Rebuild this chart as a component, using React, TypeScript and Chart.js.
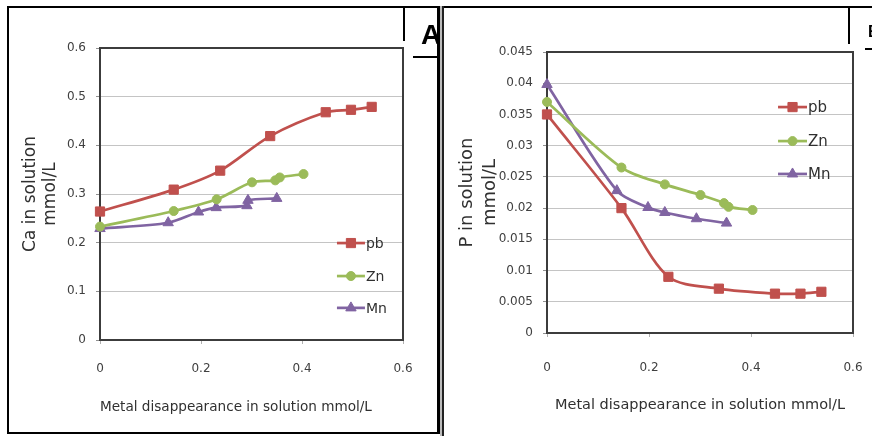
import React, { useEffect, useRef } from 'react';
import { Chart, registerables } from 'chart.js';
import { drawPoint } from 'chart.js/helpers';

Chart.register(...registerables);
Chart.defaults.font.family = "'DejaVu Sans', sans-serif";
Chart.defaults.color = '#404040';

// ---- data ----
const seriesNames = ['pb', 'Zn', 'Mn'];
const seriesColors = ['#C0504D', '#9BBB59', '#8064A2'];
const seriesMarkers = ['rect', 'circle', 'triangle'];
const seriesRadius = [6.5, 4.5, 6];

// Metal disappearance in solution (mmol/L)
const pbX = [0, 0.146, 0.238, 0.337, 0.447, 0.497, 0.538];
const znX = [0, 0.146, 0.231, 0.301, 0.347, 0.356, 0.403];
const mnXA = [0, 0.135, 0.195, 0.23, 0.291, 0.293, 0.35];
const mnXB = [0, 0.137, 0.198, 0.231, 0.293, 0.352];

// Panel A: Ca in solution (mmol/L)
const caPb = [0.264, 0.309, 0.348, 0.419, 0.468, 0.473, 0.479];
const caZn = [0.233, 0.265, 0.289, 0.324, 0.328, 0.334, 0.341];
const caMn = [0.229, 0.241, 0.263, 0.272, 0.276, 0.287, 0.291];

// Panel B: P in solution (mmol/L)
const pPb = [0.035, 0.02, 0.009, 0.0071, 0.0063, 0.0063, 0.0066];
const pZn = [0.037, 0.0265, 0.0238, 0.0221, 0.0208, 0.0202, 0.0197];
const pMn = [0.0398, 0.0228, 0.0201, 0.0193, 0.0183, 0.0176];

// tick labels
const xTickLabels = ['0', '0.2', '0.4', '0.6'];
const caTickLabels = ['0', '0.1', '0.2', '0.3', '0.4', '0.5', '0.6'];
const pTickLabels = ['0', '0.005', '0.01', '0.015', '0.02', '0.025', '0.03', '0.035', '0.04', '0.045'];

const xTitle = 'Metal disappearance in solution mmol/L';
const caTitle = ['Ca in solution', 'mmol/L'];
const pTitle = ['P in solution', 'mmol/L'];

const zip = (xs: number[], ys: number[]) => xs.map((x, i) => ({ x, y: ys[i] }));

const framePlugin = {
  id: 'plotFrame',
  beforeDatasetsDraw(chart: any) {
    const { ctx, chartArea: a } = chart;
    ctx.save();
    ctx.strokeStyle = '#3c3c3c';
    ctx.lineWidth = 2;
    ctx.strokeRect(a.left, a.top, a.right - a.left, a.bottom - a.top);
    ctx.restore();
  },
};

const innerLegend = {
  id: 'innerLegend',
  afterDatasetsDraw(chart: any, _args: any, opts: any) {
    const { ctx, chartArea: a } = chart;
    const w = a.right - a.left;
    const h = a.bottom - a.top;
    chart.data.datasets.forEach((ds: any, i: number) => {
      const x0 = a.left + opts.x * w;
      const y = a.top + opts.ys[i] * h;
      ctx.save();
      ctx.strokeStyle = ds.borderColor;
      ctx.lineWidth = ds.borderWidth;
      ctx.beginPath();
      ctx.moveTo(x0, y);
      ctx.lineTo(x0 + opts.len, y);
      ctx.stroke();
      ctx.fillStyle = ds.pointBackgroundColor;
      ctx.strokeStyle = ds.pointBorderColor;
      ctx.lineWidth = 1;
      drawPoint(ctx, { pointStyle: ds.pointStyle, radius: ds.pointRadius, rotation: 0, borderWidth: 1 } as any, x0 + opts.len / 2, y);
      ctx.fillStyle = '#303030';
      ctx.font = opts.font;
      ctx.textBaseline = 'middle';
      ctx.textAlign = 'left';
      ctx.fillText(ds.label, x0 + opts.len + 1, y + 1);
      ctx.restore();
    });
  },
};

function makeDatasets(pairs: { x: number; y: number }[][]) {
  return pairs.map((data, i) => ({
    label: seriesNames[i],
    data,
    borderColor: seriesColors[i],
    backgroundColor: seriesColors[i],
    pointBackgroundColor: seriesColors[i],
    pointBorderColor: seriesColors[i],
    pointStyle: seriesMarkers[i],
    pointRadius: seriesRadius[i],
    pointBorderWidth: 1,
    borderWidth: 2.7,
    tension: 0.3,
    clip: false,
  }));
}

type PanelSpec = {
  datasets: any[];
  yMax: number;
  yStep: number;
  yLabels: string[];
  yTitle: string[];
  yTitleSize: number;
  yTitleLine: string;
  yTitlePad: number;
  yWidth: number;
  xHeight: number;
  xTickPad: number;
  xTitleSize: number;
  xTitlePad: number;
  xTitleAlign: string;
  padTop: number;
  padRight: number;
  legend: any;
};

function makeConfig(s: PanelSpec): any {
  return {
    type: 'line',
    data: { datasets: s.datasets },
    plugins: [framePlugin, innerLegend],
    options: {
      animation: false,
      responsive: false,
      devicePixelRatio: 1,
      layout: { padding: { top: s.padTop, right: s.padRight, left: 0, bottom: 0 } },
      plugins: {
        legend: { display: false },
        tooltip: { enabled: false },
        innerLegend: s.legend,
      },
      scales: {
        x: {
          type: 'linear',
          min: 0,
          max: 0.6,
          ticks: {
            stepSize: 0.2,
            padding: s.xTickPad,
            font: { size: 12 },
            color: '#404040',
            maxRotation: 0,
            callback: (_v: any, i: number) => xTickLabels[i],
          },
          grid: { drawOnChartArea: false, drawTicks: true, tickLength: 4, tickColor: '#b0b0b0' },
          border: { display: false },
          title: {
            display: true,
            text: xTitle,
            align: s.xTitleAlign,
            color: '#303030',
            font: { size: s.xTitleSize, lineHeight: 1.2 },
            padding: { top: 0, bottom: s.xTitlePad },
          },
          afterFit: (scale: any) => {
            scale.height = s.xHeight;
            scale.paddingLeft = 0;
            scale.paddingRight = 0;
          },
        },
        y: {
          type: 'linear',
          min: 0,
          max: s.yMax,
          ticks: {
            stepSize: s.yStep,
            padding: 10,
            font: { size: 12 },
            color: '#404040',
            callback: (_v: any, i: number) => s.yLabels[i],
          },
          grid: { color: '#c4c4c4', lineWidth: 1, tickLength: 4, tickColor: '#909090' },
          border: { display: false },
          title: {
            display: true,
            text: s.yTitle,
            color: '#303030',
            font: { size: s.yTitleSize, lineHeight: s.yTitleLine },
            padding: { top: s.yTitlePad, bottom: 0 },
          },
          afterFit: (scale: any) => {
            scale.width = s.yWidth;
            scale.paddingTop = 0;
            scale.paddingBottom = 0;
          },
        },
      },
    },
  };
}

const specA: PanelSpec = {
  datasets: makeDatasets([zip(pbX, caPb), zip(znX, caZn), zip(mnXA, caMn)]),
  yMax: 0.6,
  yStep: 0.1,
  yLabels: caTickLabels,
  yTitle: caTitle,
  yTitleSize: 17,
  yTitleLine: '20px',
  yTitlePad: 11,
  yWidth: 90,
  xHeight: 92,
  xTickPad: 18,
  xTitleSize: 13.6,
  xTitlePad: 16,
  xTitleAlign: 'start',
  padTop: 39,
  padRight: 34,
  legend: { x: 0.782, ys: [0.668, 0.781, 0.89], len: 28, font: "14px 'DejaVu Sans', sans-serif" },
};

const specB: PanelSpec = {
  datasets: makeDatasets([zip(pbX, pPb), zip(znX, pZn), zip(mnXB, pMn)]),
  yMax: 0.045,
  yStep: 0.005,
  yLabels: pTickLabels,
  yTitle: pTitle,
  yTitleSize: 18,
  yTitleLine: '23px',
  yTitlePad: 12,
  yWidth: 103,
  xHeight: 103,
  xTickPad: 24,
  xTitleSize: 14.5,
  xTitlePad: 22,
  xTitleAlign: 'center',
  padTop: 43,
  padRight: 19,
  legend: { x: 0.755, ys: [0.196, 0.317, 0.434], len: 29, font: "15px 'DejaVu Sans', sans-serif" },
};

function ChartCanvas({ spec, left, top, width, height }: { spec: PanelSpec; left: number; top: number; width: number; height: number }) {
  const ref = useRef<HTMLCanvasElement | null>(null);
  useEffect(() => {
    const chart = new Chart(ref.current as HTMLCanvasElement, makeConfig(spec));
    return () => chart.destroy();
  }, []);
  return (
    <canvas
      ref={ref}
      width={width}
      height={height}
      style={{ position: 'absolute', left, top, width, height }}
    />
  );
}

const line = (left: number, top: number, width: number, height: number, color = '#000') => (
  <div style={{ position: 'absolute', left, top, width, height, background: color }} />
);

export default function App() {
  return (
    <div style={{ position: 'absolute', left: 0, top: 0, width: 872, height: 436, background: '#fff', overflow: 'hidden' }}>
      <ChartCanvas spec={specA} left={10} top={9} width={427} height={423} />
      <ChartCanvas spec={specB} left={444} top={9} width={428} height={427} />
      {/* panel frames */}
      {line(7, 6, 865, 2)}
      {line(7, 6, 2, 428)}
      {line(7, 432, 433, 2)}
      {line(437, 6, 3, 428)}
      {line(440, 6, 2, 430, '#bbb')}
      {line(442, 6, 2, 430, '#222')}
      {/* panel label boxes */}
      {line(403, 6, 2, 35)}
      {line(413, 56, 25, 2)}
      {line(848, 6, 2, 38)}
      {line(865, 48, 7, 2)}
      <div style={{ position: 'absolute', left: 405, top: 8, width: 32, height: 46, overflow: 'hidden' }}>
        <div style={{ position: 'absolute', left: 16, top: 13, fontFamily: "'Liberation Sans', Arial, sans-serif", fontWeight: 'bold', fontSize: 28, lineHeight: '28px', color: '#000' }}>A</div>
      </div>
      <div style={{ position: 'absolute', left: 868, top: 20, width: 4, height: 24, overflow: 'hidden' }}>
        <div style={{ position: 'absolute', left: 0, top: 4, fontFamily: "'Liberation Sans', Arial, sans-serif", fontWeight: 'bold', fontSize: 16, lineHeight: '16px', color: '#000' }}>B</div>
      </div>
    </div>
  );
}
